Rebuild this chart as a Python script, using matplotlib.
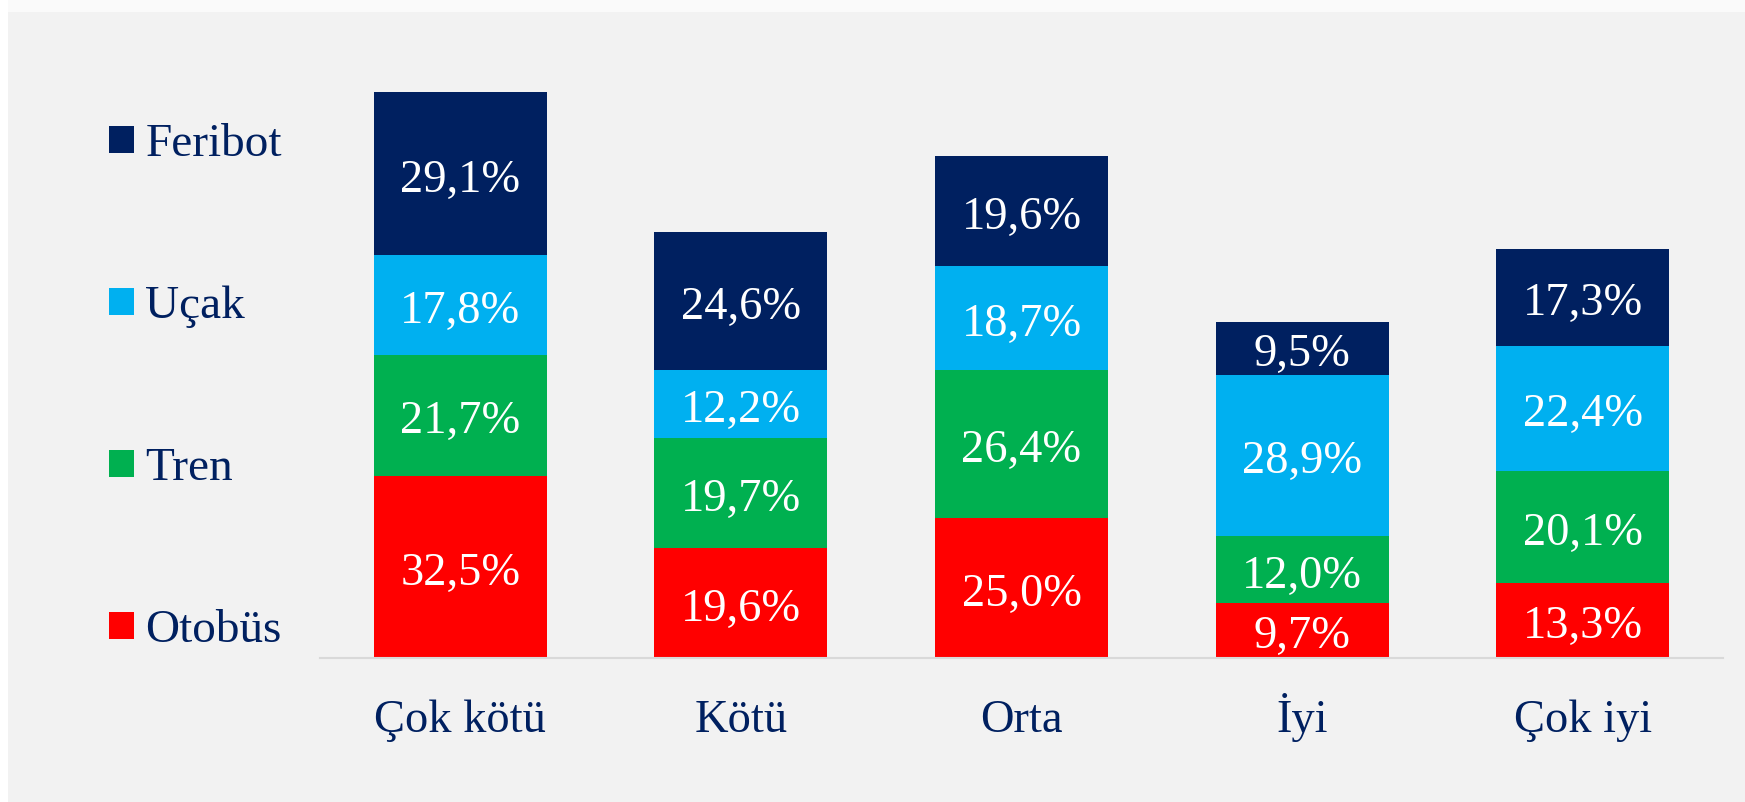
import matplotlib
matplotlib.use("Agg")
import matplotlib.pyplot as plt
import numpy as np
from matplotlib.patches import Rectangle, Patch

categories = ["Çok kötü", "Kötü", "Orta", "İyi", "Çok iyi"]
series_names = ["Otobüs", "Tren", "Uçak", "Feribot"]
otobus = [32.5, 19.6, 25.0, 9.7, 13.3]
tren = [21.7, 19.7, 26.4, 12.0, 20.1]
ucak = [17.8, 12.2, 18.7, 28.9, 22.4]
feribot = [29.1, 24.6, 19.6, 9.5, 17.3]
series_values = [otobus, tren, ucak, feribot]
colors = ["#FF0000", "#00B050", "#00B0F0", "#002060"]

TEXT = "#002060"
BG = "#F2F2F2"
FS = 33.5
FS_LEG = 34
plt.rcParams['font.family'] = ['Liberation Serif', 'DejaVu Serif']

W, H = 1745, 802
fig = plt.figure(figsize=(W / 100, H / 100), dpi=100)
fig.patch.set_facecolor(BG)
# white margins at top and left
fig.add_artist(Rectangle((0, 1 - 12 / H), 1, 12 / H, transform=fig.transFigure,
                         facecolor="#FAFAFA", edgecolor="none", zorder=0))
fig.add_artist(Rectangle((0, 0), 8 / W, 1, transform=fig.transFigure,
                         facecolor="white", edgecolor="none", zorder=0))

ax_left, ax_right = 320, 1723
ax_bottom_px = 657.5
ymax = 110
px_per = 5.59
ax_top_px = ax_bottom_px - ymax * px_per
ax = fig.add_axes([ax_left / W, (H - ax_bottom_px) / H,
                   (ax_right - ax_left) / W, (ax_bottom_px - ax_top_px) / H])
ax.set_facecolor(BG)

x = np.arange(len(categories))
bottom = np.zeros(len(categories))
for name, vals, col in zip(series_names, series_values, colors):
    vals = np.array(vals)
    ax.bar(x, vals, width=0.616, bottom=bottom, color=col, edgecolor="none", label=name, zorder=2)
    for xi, b, v in zip(x, bottom, vals):
        ax.annotate(f"{v:.1f}%".replace(".", ","), xy=(xi, b + v / 2), xytext=(0, -13),
                    textcoords="offset points", ha="center", va="baseline",
                    color="white", fontsize=FS, zorder=3)
    bottom = bottom + vals

ax.set_xlim(-0.5, len(categories) - 0.5)
ax.set_ylim(0, ymax)
ax.set_yticks([])
for s in ["top", "right", "left"]:
    ax.spines[s].set_visible(False)
ax.spines["bottom"].set_color("#D9D9D9")
ax.spines["bottom"].set_linewidth(1.5)
ax.set_xticks(x, categories, va="baseline")
ax.tick_params(axis="x", length=0, pad=54, labelsize=FS, labelcolor=TEXT)

handles = [Patch(facecolor=c, edgecolor="none") for c in colors][::-1]
labels = series_names[::-1]
leg = fig.legend(handles, labels, loc="center left",
                 bbox_to_anchor=(109 / W, (H - 388) / H),
                 frameon=False, fontsize=FS_LEG, labelcolor=TEXT,
                 handlelength=0.52, handleheight=0.52, handletextpad=0.25,
                 labelspacing=2.53, borderpad=0, borderaxespad=0)

fig.savefig("out.png", dpi=100, facecolor=fig.get_facecolor())
